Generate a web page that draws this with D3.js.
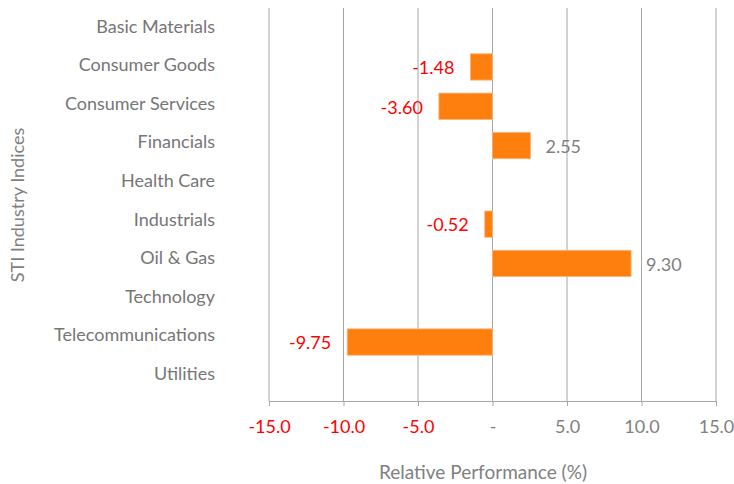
<!DOCTYPE html>
<html>
<head>
<meta charset="utf-8">
<script src="https://cdn.jsdelivr.net/npm/d3@7"></script>
<style>
  body { margin: 0; background: #fff; }
  svg { display: block; font-family: Lato, "Open Sans", sans-serif; }
</style>
</head>
<body>
<div id="chart"></div>
<script>
// Chart data
const categories = [
  "Basic Materials", "Consumer Goods", "Consumer Services", "Financials",
  "Health Care", "Industrials", "Oil & Gas", "Technology",
  "Telecommunications", "Utilities"
];
const values = [null, -1.48, -3.6, 2.55, null, -0.52, 9.3, null, -9.75, null];
const xTicks = [-15, -10, -5, 0, 5, 10, 15];

const width = 734;
const height = 484;
const margin = { top: 8, right: 18, bottom: 83, left: 269 };
const fontSize = "18px";

const svg = d3.select("#chart")
  .append("svg")
  .attr("width", width)
  .attr("height", height);

const x = d3.scaleLinear()
  .domain([-15, 15])
  .range([margin.left, width - margin.right]);

const y = d3.scaleBand()
  .domain(categories)
  .range([margin.top, height - margin.bottom])
  .paddingInner(0.33)
  .paddingOuter(0.165);

// category labels sit on a slightly tighter pitch than the bars
const yLabel = d3.scalePoint()
  .domain(categories)
  .range([26.5, 373.5]);

const plotBottom = height - margin.bottom;

// vertical gridlines
svg.append("g")
  .selectAll("line")
  .data(xTicks)
  .join("line")
  .attr("x1", d => x(d)).attr("x2", d => x(d))
  .attr("y1", margin.top).attr("y2", plotBottom)
  .attr("stroke", "#a6a6a6")
  .attr("stroke-width", 1);

// x axis
const xAxis = svg.append("g")
  .attr("transform", `translate(0,${plotBottom})`)
  .call(d3.axisBottom(x)
    .tickValues(xTicks)
    .tickSize(5)
    .tickFormat(d => d === 0 ? "-" : d.toFixed(1)));

xAxis.select(".domain").attr("stroke", "#a6a6a6");
xAxis.selectAll(".tick line").attr("stroke", "#a6a6a6");
xAxis.selectAll(".tick text")
  .attr("y", 26)
  .attr("dy", "0.35em")
  .style("font-size", fontSize)
  .style("font-family", "Lato, sans-serif")
  .attr("fill", d => d < 0 ? "#ff0000" : "#808080");

// category labels
svg.append("g")
  .selectAll("text")
  .data(categories)
  .join("text")
  .attr("x", 215)
  .attr("y", d => yLabel(d))
  .attr("dy", "0.35em")
  .attr("text-anchor", "end")
  .style("font-size", fontSize)
  .attr("fill", "#767676")
  .text(d => d);

// bars
const data = categories.map((c, i) => ({ cat: c, val: values[i] }))
  .filter(d => d.val !== null);

svg.append("g")
  .selectAll("rect")
  .data(data)
  .join("rect")
  .attr("x", d => x(Math.min(0, d.val)))
  .attr("width", d => Math.abs(x(d.val) - x(0)))
  .attr("y", d => y(d.cat))
  .attr("height", y.bandwidth())
  .attr("fill", "#ff7f0e")
  .attr("stroke", "#fdb47a")
  .attr("stroke-width", 0.8);

// value labels
svg.append("g")
  .selectAll("text")
  .data(data)
  .join("text")
  .attr("x", d => d.val < 0 ? x(d.val) - 16 : x(d.val) + 15)
  .attr("y", d => y(d.cat) + y.bandwidth() / 2 + 1)
  .attr("dy", "0.35em")
  .attr("text-anchor", d => d.val < 0 ? "end" : "start")
  .style("font-size", fontSize)
  .attr("fill", d => d.val < 0 ? "#ff0000" : "#808080")
  .text(d => d.val.toFixed(2));

// axis titles
svg.append("text")
  .attr("x", 483)
  .attr("y", 472)
  .attr("dy", "0.35em")
  .attr("text-anchor", "middle")
  .style("font-size", "19px")
  .attr("fill", "#808080")
  .text("Relative Performance (%)");

svg.append("text")
  .attr("transform", "translate(18,205) rotate(-90)")
  .attr("dy", "0.35em")
  .attr("text-anchor", "middle")
  .style("font-size", fontSize)
  .attr("fill", "#808080")
  .text("STI Industry Indices");
</script>
</body>
</html>
